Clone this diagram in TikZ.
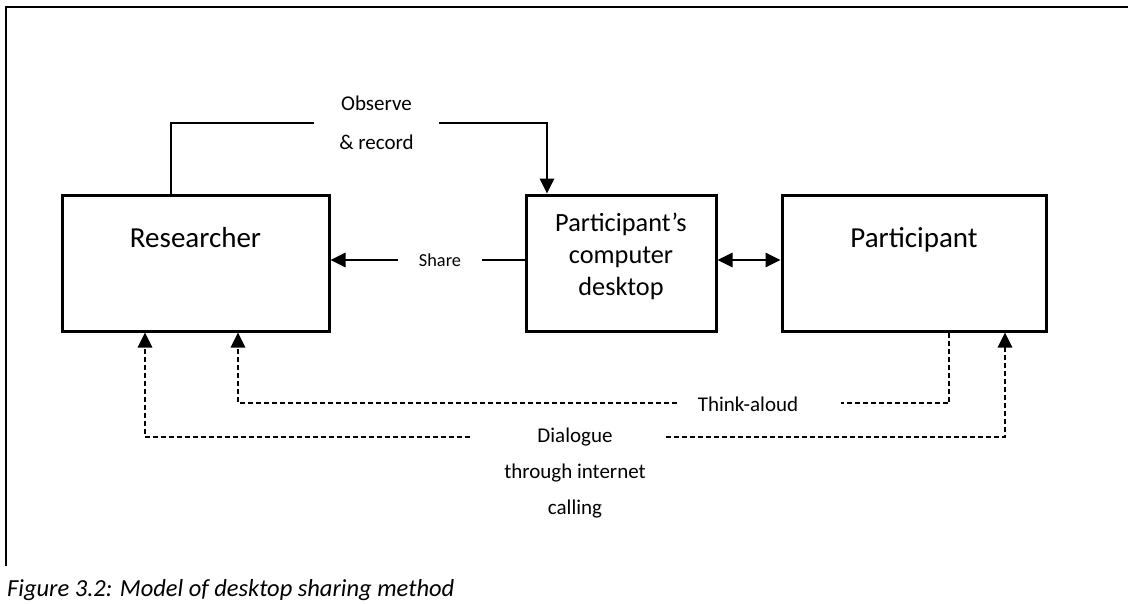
\documentclass[tikz,border=0pt]{standalone}
\usepackage{fontspec}
\setmainfont{Carlito}
\usepackage{tikz}
\usetikzlibrary{arrows.meta,positioning}

\newcommand{\bigtxt}{\fontsize{29}{35}\selectfont}
\newcommand{\desktxt}{\fontsize{26.3}{32}\selectfont}
\newcommand{\smalltxt}{\fontsize{21}{25}\selectfont}
\newcommand{\dlgtxt}{\fontsize{21}{36}\selectfont}
\newcommand{\sharetxt}{\fontsize{18.3}{22}\selectfont}
\newcommand{\captxt}{\fontsize{24.5}{29}\selectfont\itshape}

\begin{document}
\begin{tikzpicture}[x=1pt, y=-1pt, >={Triangle[length=15pt,width=14.5pt]},
	box/.style={draw, line width=3pt, inner sep=0pt, minimum height=136pt},
	conn/.style={line width=1.3pt},
	talk/.style={line width=1.3pt, dash pattern=on 5pt off 3pt},
	lbl/.style={inner sep=0pt}]
	\useasboundingbox (0,0) rectangle (1128,603);
	%frame
	\draw [line width=2.3pt] (5.7,566) -- (5.7,7) -- (1128,7);
	%boxes
	\node [box, minimum width=267pt] (res) at (195.5,263) {};
	\node [box, minimum width=190pt] (desk) at (621,263) {};
	\node [box, minimum width=264pt] (part) at (914,263) {};
	\node [lbl, font=\bigtxt] (res-t) at ([yshift=-44pt]res.north) {Researcher};
	\node [lbl, font=\desktxt, align=center] (desk-t) at (621,256) {Participant’s\\computer\\desktop};
	\node [lbl, font=\bigtxt] (part-t) at ([yshift=-46pt]part.north) {Participant};
	%observe & record
	\node [lbl, font=\smalltxt, align=center, minimum width=125pt] (obs) at (376.5,123) {Observe\\[14pt]\& record};
	\draw [conn] ([xshift=-24.5pt]res.north) |- (obs.west);
	\draw [conn,->] (obs.east) -| ([xshift=-74pt]desk.north);
	%share
	\node [lbl, font=\sharetxt, minimum width=84pt] (shr) at (440,260) {Share};
	\draw [conn] (desk.west |- shr) -- (shr.east);
	\draw [conn,->] (shr.west) -- (res.east |- shr);
	\draw [conn,<->] (desk.east |- shr) -- (part.west |- shr);
	%think-aloud
	\node [lbl, font=\smalltxt] (think) at (748,404) {Think-aloud};
	\draw [talk] ([xshift=35pt]part.south) |- ([xshift=93pt,yshift=1pt]think.center);
	\draw [talk,->] ([xshift=-71pt,yshift=1pt]think.center) -| ([xshift=42.5pt]res.south);
	%dialogue
	\node [lbl, font=\dlgtxt, align=center] (dlg) at (575,473) {Dialogue\\through internet\\calling};
	\draw [talk,->] ([xshift=-105pt,yshift=36pt]dlg.center) -| ([xshift=-50.5pt]res.south);
	\draw [talk,->] ([xshift=91pt,yshift=36pt]dlg.center) -| ([xshift=91pt]part.south);
	%caption
	\node [lbl, font=\captxt, anchor=west] (cap) at (7,590) {Figure 3.2: Model of desktop sharing method};
\end{tikzpicture}
\end{document}
